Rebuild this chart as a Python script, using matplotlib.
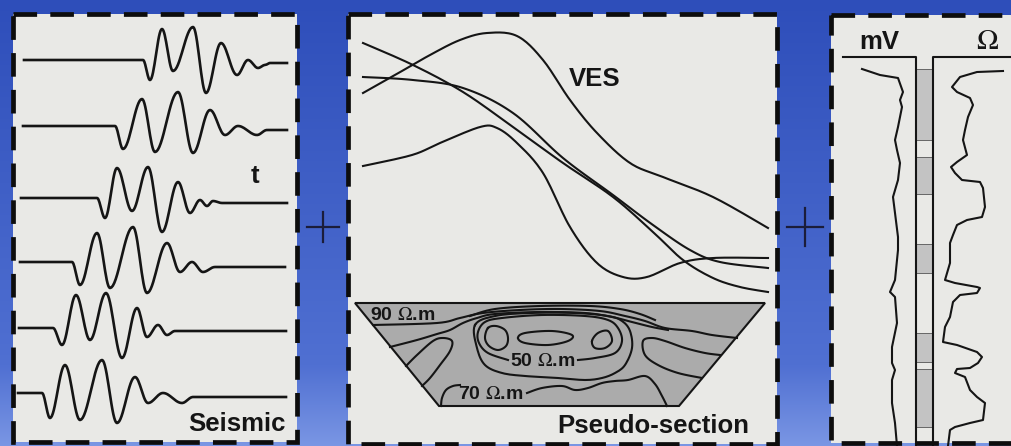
import numpy as np
import matplotlib.pyplot as plt
from matplotlib.patches import Rectangle, Polygon

plt.rcParams['font.family'] = ['Liberation Sans', 'DejaVu Sans']
plt.rcParams['mathtext.fontset'] = 'stix'
plt.rcParams['lines.scale_dashes'] = False

# ---- seismic traces: knots (x, y) at onset and extrema
seis_traces = [
    [(24, 60), (143, 60), (150, 80), (162, 29), (173, 71), (193, 27), (206, 93), (221, 43),
     (237, 75), (248, 60), (258, 68), (265, 65), (270, 63), (287, 63)],
    [(23, 126), (115, 126), (123, 149), (142, 99), (155, 152), (178, 92), (193, 153), (210, 110),
     (225, 135), (238, 126), (257, 135), (267, 130), (287, 130)],
    [(21, 198), (97, 198), (105, 218), (117, 168), (132, 211), (148, 167), (162, 232), (178, 182),
     (190, 213), (200, 200), (207, 206), (213, 201), (222, 203), (287, 203)],
    [(20, 262), (72, 262), (80, 285), (97, 233), (110, 288), (133, 227), (147, 293), (167, 243),
     (180, 272), (192, 262), (203, 272), (215, 267), (227, 267), (285, 267)],
    [(19, 328), (53, 328), (62, 345), (76, 295), (90, 340), (106, 293), (122, 358), (137, 308),
     (147, 337), (158, 325), (167, 335), (175, 331), (180, 331), (286, 331)],
    [(18, 393), (42, 393), (50, 418), (65, 365), (80, 420), (102, 360), (117, 423), (135, 377),
     (148, 403), (163, 393), (182, 403), (193, 397), (286, 397)],
]

# ---- VES sounding curves
ves_curves = [
    [(363, 93), (395, 75), (430, 55), (460, 40), (487, 33), (517, 36), (543, 60), (570, 100),
     (597, 133), (630, 163), (663, 177), (713, 197), (768, 228)],
    [(363, 43), (413, 65), (463, 92), (513, 127), (563, 163), (613, 197), (653, 232),
     (683, 260), (713, 278), (740, 287), (768, 292)],
    [(363, 77), (413, 80), (463, 88), (513, 113), (563, 158), (613, 195), (653, 225),
     (690, 250), (720, 262), (768, 268)],
    [(363, 166), (412, 155), (440, 143), (480, 127), (497, 128), (517, 143), (543, 173),
     (570, 227), (597, 263), (623, 277), (647, 277), (680, 263), (713, 258), (768, 258)],
]

# ---- pseudo-section outline and contour lines
pseudo_outline = [(355, 303), (765, 303), (679, 406), (439, 406)]
pseudo_open = [
    [(373, 325), (437, 323), (460, 318), (483, 313), (520, 310), (560, 309), (600, 311),
     (625, 316), (645, 321), (665, 328), (692, 331), (712, 335), (737, 338)],
    [(470, 316), (495, 309), (540, 306), (590, 306), (620, 309), (640, 314), (655, 320)],
    [(390, 347), (417, 340), (437, 334), (450, 330), (463, 323), (477, 318), (495, 314),
     (540, 312), (585, 313), (612, 317), (632, 322), (652, 327), (668, 330)],
    [(406, 366), (417, 355), (433, 341), (443, 338), (452, 341), (450, 351), (440, 365),
     (430, 378), (422, 386)],
    [(720, 355), (705, 353), (685, 348), (665, 341), (652, 338), (643, 341), (645, 355),
     (658, 365), (678, 373), (702, 378)],
    [(578, 360), (595, 358), (615, 353), (622, 341), (618, 328), (608, 320), (585, 316),
     (542, 315), (502, 318), (485, 322), (478, 332), (479, 343), (488, 353), (508, 360)],
    [(441, 406), (442, 398), (446, 390), (453, 386), (460, 385)],
    [(527, 393), (542, 388), (562, 386), (575, 390), (588, 388), (602, 383), (615, 381),
     (628, 380), (645, 376), (655, 384), (662, 396), (667, 406)],
]
pseudo_closed = [
    [(475, 325), (477, 348), (485, 365), (502, 373), (525, 376), (558, 378), (585, 380),
     (602, 378), (615, 373), (625, 365), (632, 348), (630, 331), (622, 321), (608, 316),
     (575, 313), (530, 313), (495, 316)],
    [(488, 328), (496, 326), (505, 330), (508, 338), (506, 346), (498, 350), (489, 346), (485, 338)],
    [(518, 338), (525, 333), (552, 331), (572, 335), (568, 341), (548, 345), (525, 343)],
    [(592, 341), (598, 333), (608, 331), (612, 341), (605, 348), (595, 348)],
]
pseudo_labels = ['90 $\\Omega$.m', '50 $\\Omega$.m', '70 $\\Omega$.m']
pseudo_label_xy = [(370, 320), (510, 366), (458, 399)]

# ---- well logs: SP (mV) and resistivity (ohm) vs depth
sp_x = [862, 880, 898, 903, 900, 902, 898, 895, 897, 900, 898, 893, 895, 898, 898, 895,
        890, 895, 897, 892, 892, 895, 892, 892, 895, 897]
sp_y = [69, 75, 78, 92, 100, 107, 127, 140, 150, 163, 180, 197, 213, 237, 250, 280,
        292, 297, 323, 347, 363, 370, 380, 403, 423, 446]
res_x = [1003, 977, 960, 952, 957, 970, 973, 968, 965, 963, 967, 957, 951, 955, 962, 980,
         983, 985, 982, 967, 957, 953, 950, 950, 945, 955, 977, 980, 977, 960, 953,
         950, 945, 943, 957, 977, 982, 978, 970, 957, 955, 965, 970, 977, 985, 983, 970,
         955, 950, 948]
res_y = [71, 72, 77, 87, 92, 98, 105, 117, 130, 140, 155, 162, 167, 173, 180, 182,
         188, 207, 217, 220, 225, 235, 243, 263, 280, 283, 287, 288, 293, 295, 302,
         317, 327, 342, 345, 352, 357, 363, 368, 369, 373, 377, 390, 397, 403, 420, 423,
         427, 430, 446]
litho_top = [69, 157, 244, 333, 369]
litho_bottom = [140, 194, 273, 362, 427]


def smooth(pts, n=14, closed=False):
    p = np.asarray(pts, float)
    if closed:
        p = np.vstack([p[-1], p, p[0], p[1]])
    else:
        p = np.vstack([p[0], p, p[-1]])
    out = []
    t = np.linspace(0, 1, n, endpoint=False)[:, None]
    for i in range(1, len(p) - 2):
        p0, p1, p2, p3 = p[i - 1], p[i], p[i + 1], p[i + 2]
        out.append(0.5 * (2 * p1 + (-p0 + p2) * t + (2 * p0 - 5 * p1 + 4 * p2 - p3) * t ** 2
                          + (-p0 + 3 * p1 - 3 * p2 + p3) * t ** 3))
    out.append(p[1][None] if closed else p[-2][None])
    return np.vstack(out)


def wiggle(pts, n=16):
    out = []
    t = np.linspace(0, 1, n, endpoint=False)
    s = (1 - np.cos(np.pi * t)) / 2
    for (x0, y0), (x1, y1) in zip(pts[:-1], pts[1:]):
        out.append(np.column_stack([x0 + (x1 - x0) * t, y0 + (y1 - y0) * s]))
    out.append(np.array([pts[-1]], float))
    return np.vstack(out)


fig = plt.figure(figsize=(10.12, 4.46), dpi=100)
ax = fig.add_axes([0, 0, 1, 1])
ax.set_xlim(0, 1012)
ax.set_ylim(446, 0)
ax.axis('off')

# blue background gradient
g = np.linspace(0, 1, 446)[:, None]
top = np.array([46, 78, 186]) / 255
mid = np.array([80, 112, 210]) / 255
bot = np.array([122, 150, 228]) / 255
k = np.clip(g / 0.82, 0, 1)
col = top + (mid - top) * k
k2 = np.clip((g - 0.82) / 0.18, 0, 1)
col = col + (bot - col) * k2
ax.imshow(col[:, None, :], extent=[0, 1012, 446, 0], aspect='auto', zorder=0)

ink = '#151515'
panel_bg = '#e9e9e6'
for x0, y0, x1, y1 in [(13, 14, 297, 442), (348, 14, 777, 444), (831, 15, 1040, 443)]:
    ax.add_patch(Rectangle((x0, y0), x1 - x0, y1 - y0, facecolor=panel_bg, edgecolor='none', zorder=1))
    ax.add_patch(Rectangle((x0, y0), x1 - x0, y1 - y0, fill=False, edgecolor='#0d0d0d',
                           lw=3.4, linestyle=(0, (17, 9.5)), zorder=5))

# plus signs
for cx, cy, h, v in [(323, 227, 16, 15), (805, 227, 18, 19)]:
    ax.plot([cx - h, cx + h], [cy, cy], color='#1b1d3a', lw=1.6, zorder=2)
    ax.plot([cx, cx], [cy - v, cy + v], color='#1b1d3a', lw=1.6, zorder=2)

# seismic panel
for tr in seis_traces:
    w = wiggle(tr)
    ax.plot(w[:, 0], w[:, 1], color=ink, lw=1.9, zorder=3)
ax.text(255, 183, 't', fontsize=18.5, fontweight='bold', ha='center', va='baseline', color=ink, zorder=4)
ax.text(286, 431, 'Seismic', fontsize=18.5, fontweight='bold', ha='right', va='baseline', color=ink, zorder=4)

# VES panel
for c in ves_curves:
    s = smooth(c)
    ax.plot(s[:, 0], s[:, 1], color=ink, lw=1.5, zorder=3)
ax.text(595, 86, 'VES', fontsize=18.5, fontweight='bold', ha='center', va='baseline', color=ink, zorder=4)

ax.add_patch(Polygon(pseudo_outline, closed=True, facecolor='#ababab', edgecolor=ink, lw=1.5, zorder=2))
for c in pseudo_open:
    s = smooth(c, n=8)
    ax.plot(s[:, 0], s[:, 1], color=ink, lw=1.5, zorder=3)
for c in pseudo_closed:
    s = smooth(c, n=8, closed=True)
    ax.plot(s[:, 0], s[:, 1], color=ink, lw=1.5, zorder=3)
for lab, (lx, ly) in zip(pseudo_labels, pseudo_label_xy):
    ax.text(lx, ly, lab, fontsize=14, fontweight='bold', ha='left', va='baseline', color=ink, zorder=4)
ax.text(557, 433, 'Pseudo-section', fontsize=18.5, fontweight='bold', ha='left', va='baseline', color=ink, zorder=4)

# log panel
ax.plot([843, 916, 916], [57, 57, 446], color=ink, lw=1.5, zorder=3)
ax.plot([1012, 933, 933], [57, 57, 446], color=ink, lw=1.5, zorder=3)
for t0, t1 in zip(litho_top, litho_bottom):
    ax.add_patch(Rectangle((916, t0), 17, t1 - t0, facecolor='#c3c3c3', edgecolor='#555555', lw=0.6, zorder=2))
ax.plot(sp_x, sp_y, color=ink, lw=1.5, zorder=3)
ax.plot(res_x, res_y, color=ink, lw=1.5, zorder=3)
ax.text(879, 49, 'mV', fontsize=18.5, fontweight='bold', ha='center', va='baseline', color=ink, zorder=4)
ax.text(987, 49, '$\\Omega$', fontsize=21, ha='center', va='baseline', color=ink, zorder=4)

fig.savefig('out.png', dpi=100)
